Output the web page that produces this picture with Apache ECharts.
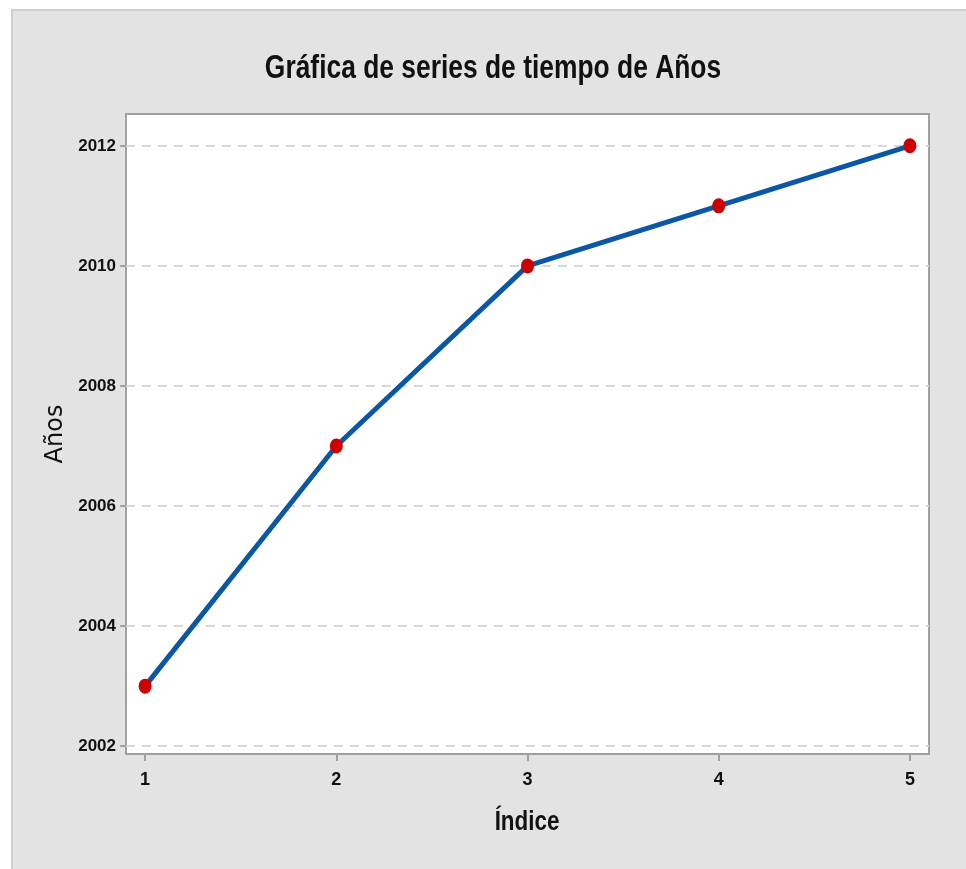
<!DOCTYPE html>
<html>
<head>
<meta charset="utf-8">
<script src="https://cdn.jsdelivr.net/npm/echarts@6/dist/echarts.min.js"></script>
<style>
  html, body { margin: 0; padding: 0; background: #fff; }
  #chart { width: 966px; height: 869px; }
</style>
</head>
<body>
<div id="chart"></div>
<script>
// values
const indices = [1, 2, 3, 4, 5];
const years = [2003, 2007, 2010, 2011, 2012];
const yTicks = [2002, 2004, 2006, 2008, 2010, 2012];

const titleText = 'Gráfica de series de tiempo de Años';
const xName = 'Índice';
const yName = 'Años';

const sans = '"Liberation Sans", Arial, sans-serif';

const chart = echarts.init(document.getElementById('chart'));

const option = {
  backgroundColor: '#ffffff',
  animation: false,
  graphic: [
    {
      type: 'rect',
      z: -10,
      silent: true,
      shape: { x: 12, y: 10, width: 960, height: 870 },
      style: { fill: '#e3e3e3', stroke: '#cfcfcf', lineWidth: 2 }
    },
    {
      // narrow title: squeeze the text horizontally
      type: 'text',
      x: 493,
      y: 69,
      scaleX: 0.8,
      silent: true,
      style: {
        text: titleText,
        font: 'bold 33px ' + sans,
        fill: '#111',
        align: 'center',
        verticalAlign: 'middle'
      }
    },
    {
      type: 'text',
      x: 527,
      y: 822,
      scaleX: 0.8,
      silent: true,
      style: {
        text: xName,
        font: 'bold 28px ' + sans,
        fill: '#111',
        align: 'center',
        verticalAlign: 'middle'
      }
    }
  ],
  grid: {
    left: 126,
    right: 37,
    top: 114,
    bottom: 115,
    show: true,
    backgroundColor: '#ffffff',
    borderColor: '#a0a0a0',
    borderWidth: 2
  },
  xAxis: {
    type: 'value',
    min: 0.9,
    max: 5.1,
    axisLine: { show: false },
    axisTick: {
      show: true,
      length: 7,
      lineStyle: { color: '#a0a0a0', width: 2 },
      customValues: indices
    },
    axisLabel: {
      fontFamily: sans,
      fontSize: 18,
      fontWeight: 'bold',
      color: '#111',
      margin: 17,
      customValues: indices,
      formatter: v => String(v)
    },
    splitLine: { show: false }
  },
  yAxis: {
    type: 'value',
    min: 2001.87,
    max: 2012.53,
    name: yName,
    nameLocation: 'middle',
    nameGap: 58,
    nameRotate: 90,
    nameTextStyle: { fontFamily: '"DejaVu Sans", sans-serif', fontSize: 24, color: '#111' },
    axisLine: { show: false },
    axisTick: {
      show: true,
      length: 6,
      lineStyle: { color: '#a0a0a0', width: 2 },
      customValues: yTicks
    },
    axisLabel: {
      fontFamily: sans,
      fontSize: 17,
      fontWeight: 'bold',
      color: '#111',
      margin: 10,
      customValues: yTicks,
      formatter: v => String(v)
    },
    splitLine: {
      show: true,
      customValues: yTicks,
      lineStyle: { color: '#d8d8d8', width: 2, type: [9, 7] }
    }
  },
  series: [
    {
      type: 'line',
      data: indices.map((x, i) => [x, years[i]]),
      lineStyle: { color: '#0b57a4', width: 5 },
      symbol: 'circle',
      symbolSize: [13, 15],
      itemStyle: { color: '#cc0000', borderWidth: 0 },
      z: 3
    }
  ]
};

chart.setOption(option);
</script>
</body>
</html>
